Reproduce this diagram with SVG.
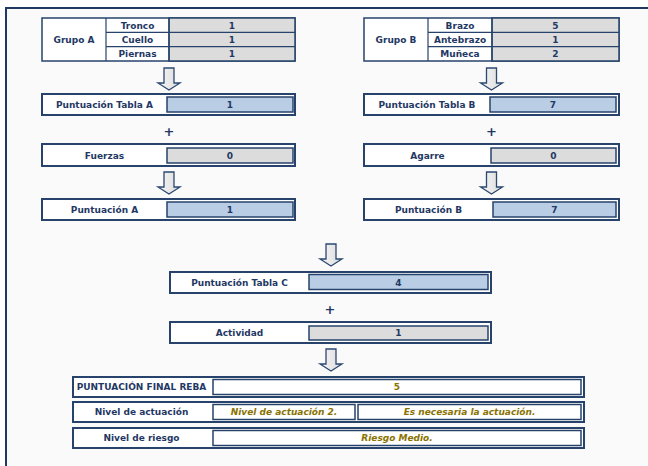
<svg xmlns="http://www.w3.org/2000/svg" width="648" height="466" viewBox="0 0 648 466">
<defs>
<linearGradient id="ag" x1="0" y1="0" x2="1" y2="0">
<stop offset="0" stop-color="#f6f6f6"/>
<stop offset="1" stop-color="#dcdcdc"/>
</linearGradient>
<path id="arr" d="M-5,0 H5 V15 H11 L0,22 L-11,15 H-5 Z"/>
</defs>
<style>
.frame{fill:#fafafa;stroke:#1f3864;stroke-width:2}
.box{fill:#fff;stroke:#27436b;stroke-width:2}
.boxin{fill:none;stroke:#9db0c8;stroke-width:0.8}
.tbl{fill:#fff;stroke:#27436b;stroke-width:1.5}
.grid{stroke:#27436b;stroke-width:1.2;fill:none}
.gray{fill:#dcdcdc;stroke:#27436b;stroke-width:1.5}
.blue{fill:#b9cde5;stroke:#27436b;stroke-width:1.5}
.white{fill:#fff;stroke:#27436b;stroke-width:1.5}
.arrow{fill:url(#ag);stroke:#2c4770;stroke-width:1.3;stroke-linejoin:miter}
text{font-family:"DejaVu Sans","Liberation Sans",sans-serif;font-weight:bold;font-size:9px;fill:#1f3864;text-anchor:middle}
.plus{font-size:13px}
.res{fill:#8a7300;font-style:italic}
</style>
<rect class="frame" x="6" y="8" width="660" height="480"/>

<g id="grupoA">
<rect class="tbl" x="42" y="18" width="253" height="43"/>
<rect class="gray" x="169" y="18" width="126" height="43"/>
<path class="grid" d="M106,18 V61 M169,18 V61 M106,32.3 H295 M106,46.7 H295"/>
<text x="74" y="42.8">Grupo A</text>
<text x="137.5" y="28.5">Tronco</text>
<text x="137.5" y="42.8">Cuello</text>
<text x="137.5" y="57.1">Piernas</text>
<text x="232" y="28.5">1</text>
<text x="232" y="42.8">1</text>
<text x="232" y="57.1">1</text>
</g>

<g id="grupoB">
<rect class="tbl" x="364" y="18" width="255" height="43"/>
<rect class="gray" x="492" y="18" width="127" height="43"/>
<path class="grid" d="M428,18 V61 M492,18 V61 M428,32.3 H619 M428,46.7 H619"/>
<text x="396" y="42.8">Grupo B</text>
<text x="460" y="28.5">Brazo</text>
<text x="460" y="42.8">Antebrazo</text>
<text x="460" y="57.1">Muñeca</text>
<text x="555.5" y="28.5">5</text>
<text x="555.5" y="42.8">1</text>
<text x="555.5" y="57.1">2</text>
</g>

<g id="connectors">
<use href="#arr" class="arrow" x="169" y="68"/>
<use href="#arr" class="arrow" x="491.5" y="68"/>
<use href="#arr" class="arrow" x="169" y="172"/>
<use href="#arr" class="arrow" x="491.5" y="172"/>
<use href="#arr" class="arrow" x="331" y="244"/>
<use href="#arr" class="arrow" x="331" y="349"/>
<text class="plus" x="169" y="135.5">+</text>
<text class="plus" x="491.5" y="135.5">+</text>
<text class="plus" x="330" y="313.5">+</text>
</g>

<g id="tablaA">
<rect class="box" x="42" y="94" width="253" height="21"/>
<rect class="blue" x="167" y="97" width="126" height="15"/>
<text x="104.5" y="108.3">Puntuación Tabla A</text>
<text x="230" y="108.3">1</text>
</g>

<g id="tablaB">
<rect class="box" x="364" y="94" width="255" height="21"/>
<rect class="blue" x="490" y="97" width="126" height="15"/>
<text x="427" y="108.3">Puntuación Tabla B</text>
<text x="553" y="108.3">7</text>
</g>

<g id="fuerzas">
<rect class="box" x="42" y="144" width="253" height="22"/>
<rect class="gray" x="167" y="148" width="126" height="15"/>
<text x="104.5" y="158.8">Fuerzas</text>
<text x="230" y="158.8">0</text>
</g>

<g id="agarre">
<rect class="box" x="364" y="144" width="255" height="22"/>
<rect class="gray" x="491" y="148" width="125" height="15"/>
<text x="427.5" y="158.8">Agarre</text>
<text x="553.5" y="158.8">0</text>
</g>

<g id="puntA">
<rect class="box" x="42" y="199" width="253" height="21"/>
<rect class="blue" x="167" y="202" width="126" height="15"/>
<text x="104.5" y="213">Puntuación A</text>
<text x="230" y="213">1</text>
</g>

<g id="puntB">
<rect class="box" x="364" y="199" width="255" height="21"/>
<rect class="blue" x="493" y="202" width="123" height="15"/>
<text x="428.5" y="213">Puntuación B</text>
<text x="554.5" y="213">7</text>
</g>

<g id="tablaC">
<rect class="box" x="170" y="272" width="321" height="21"/>
<rect class="blue" x="309" y="274.5" width="179" height="15"/>
<text x="239.5" y="285.5">Puntuación Tabla C</text>
<text x="398.5" y="285.5">4</text>
</g>

<g id="actividad">
<rect class="box" x="170" y="322" width="321" height="21"/>
<rect class="gray" x="309" y="326" width="179" height="14"/>
<text x="239.5" y="336.3">Actividad</text>
<text x="398.5" y="336.3">1</text>
</g>

<g id="final">
<rect class="box" x="73" y="377" width="511" height="20"/>
<rect class="white" x="213" y="379.5" width="368" height="15"/>
<text x="141.5" y="390.3">PUNTUACIÓN FINAL REBA</text>
<text class="res" x="397" y="390.3" style="font-style:normal">5</text>
</g>

<g id="actuacion">
<rect class="box" x="73" y="402" width="511" height="20"/>
<rect class="white" x="213" y="404.5" width="142" height="15"/>
<rect class="white" x="358" y="404.5" width="223" height="15"/>
<text x="141.5" y="415.3">Nivel de actuación</text>
<text class="res" x="284" y="415.3">Nivel de actuación 2.</text>
<text class="res" x="469.5" y="415.3">Es necesaria la actuación.</text>
</g>

<g id="riesgo">
<rect class="box" x="73" y="428" width="511" height="20"/>
<rect class="white" x="213" y="430.5" width="368" height="15"/>
<text x="141.5" y="441.3">Nivel de riesgo</text>
<text class="res" x="397" y="441.3">Riesgo Medio.</text>
</g>
</svg>
